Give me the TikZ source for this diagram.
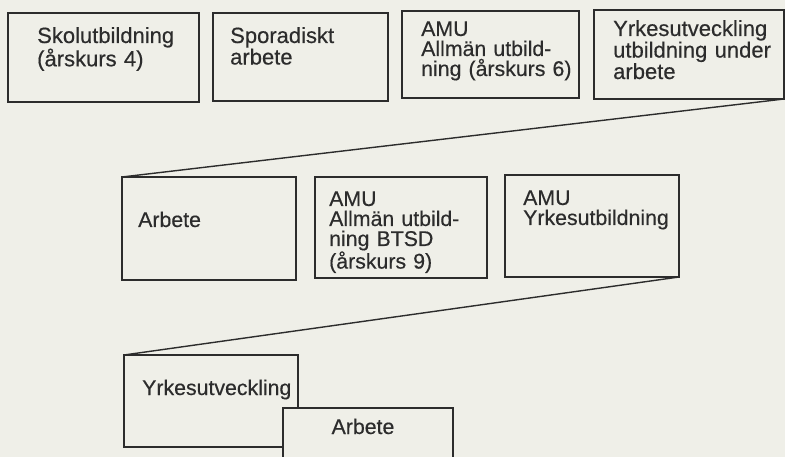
\documentclass[tikz,border=0pt]{standalone}
\usepackage{fontspec}
\setmainfont[FakeBold=0.4]{Liberation Sans}
\newfontfamily\boxfont[FakeBold=0.4]{Liberation Sans}
\definecolor{paper}{HTML}{EFEFE8}
\definecolor{ink}{HTML}{2C2C2C}
\begin{document}
\begin{tikzpicture}[x=1pt,y=-1pt,
  box/.style={draw=ink, line width=1.6pt, anchor=north west, inner sep=0pt, outer sep=0pt},
  lbl/.style={anchor=base west, inner sep=0pt, text=ink, font=\boxfont\fontsize{22}{20}\selectfont, text width=190pt, align=left},
  lbls/.style={lbl, font=\boxfont\fontsize{21.3}{20}\selectfont},
  link/.style={draw=ink, line width=1.4pt}]
\fill[paper] (0,0) rectangle (785,457);
\clip (0,0) rectangle (785,457);
% top row
\node[box, minimum width=191pt, minimum height=89pt] (b1) at (8,13) {};
\node[box, minimum width=175pt, minimum height=88pt] (b2) at (213,13) {};
\node[box, minimum width=177pt, minimum height=87pt] (b3) at (402,11) {};
\node[box, minimum width=190pt, minimum height=89pt] (b4) at (594,10) {};
\node[lbl] (t1) at (37,43) {Skolutbildning\\(årskurs 4)};
\node[lbl] (t2) at (230,43) {Sporadiskt\\arbete};
\node[lbls] (t3) at (421,36) {AMU\\Allmän utbild-\\ning (årskurs 6)};
\node[lbl] (t4) at (613,36) {Yrkesutveckling\\utbildning under\\arbete};
% middle row
\node[box, minimum width=174pt, minimum height=103pt] (rA) at (122,177) {};
\node[box, minimum width=172pt, minimum height=101pt] (rB) at (315,177) {};
\node[box, minimum width=174pt, minimum height=102pt] (rC) at (505,175) {};
\node[lbls] (tA) at (138,227) {Arbete};
\node[lbls] (tB) at (329,206) {AMU\\Allmän utbild-\\ning BTSD\\(årskurs 9)};
\node[lbls] (tC) at (523,205) {AMU\\Yrkesutbildning};
% bottom row
\node[box, minimum width=174pt, minimum height=92pt] (Y) at (124,355) {};
\node[lbls] (tY) at (142,395) {Yrkesutveckling};
\node[box, fill=paper, minimum width=170pt, minimum height=80pt] (Ar) at (283,408) {};
\node[anchor=base, inner sep=0pt, text=ink, font=\boxfont\fontsize{21.3}{20}\selectfont] (tAr) at (363,434) {Arbete};
% connectors
\draw[link] (b4.south east) -- (rA.north west);
\draw[link] (rC.south east) -- (Y.north west);
\end{tikzpicture}
\end{document}
